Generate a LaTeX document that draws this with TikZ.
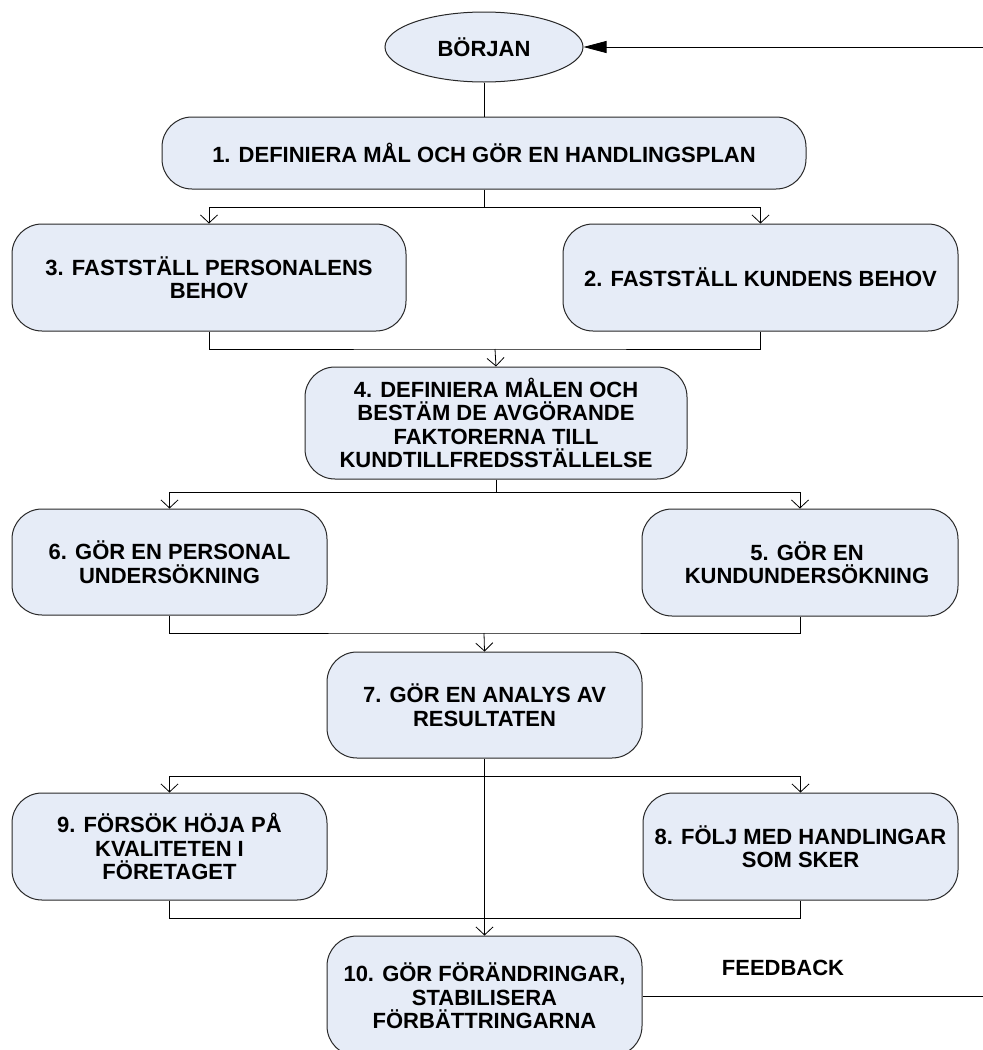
\documentclass[tikz,border=0pt]{standalone}
\usepackage{fontspec}
\setmainfont{Liberation Sans}
\usetikzlibrary{shapes.geometric,arrows.meta}
\definecolor{boxfill}{RGB}{230,236,247}
\definecolor{boxline}{RGB}{40,40,40}
\begin{document}
\begin{tikzpicture}[x=1pt,y=-1pt,
  lbl/.style={font=\bfseries\fontsize{22}{23.5}\selectfont,align=center},
  box/.style={lbl,draw=boxline,fill=boxfill,line width=1pt,rounded corners=30pt,inner sep=0pt},
  conn/.style={line width=0.8pt,draw=black},
  arr/.style={conn,-{Straight Barb[length=8pt,width=17pt,line width=0.8pt]}},
  bigarr/.style={conn,-{Triangle[length=23pt,width=12pt]}}]
\fill[white] (0,0) rectangle (983,1050);
\useasboundingbox (0,0) rectangle (983,1050);

% nodes
\node[lbl,ellipse,draw=boxline,fill=boxfill,line width=1pt,minimum width=198pt,minimum height=70pt,inner sep=0pt] (start) at (484,47) {BÖRJAN};
\node[box,minimum width=644pt,minimum height=72pt] (n1) at (484,153) {1. DEFINIERA MÅL OCH GÖR EN HANDLINGSPLAN};
\node[box,minimum width=394pt,minimum height=107pt] (n3) at (209,277.5) {3. FASTSTÄLL PERSONALENS\\BEHOV};
\node[box,minimum width=395pt,minimum height=107pt] (n2) at (760.5,277.5) {2. FASTSTÄLL KUNDENS BEHOV};
\node[box,minimum width=382pt,minimum height=112pt] (n4) at (496,423) {4. DEFINIERA MÅLEN OCH\\BESTÄM DE AVGÖRANDE\\FAKTORERNA TILL\\KUNDTILLFREDSSTÄLLELSE};
\node[box,minimum width=315pt,minimum height=106pt] (n6) at (169.5,562) {6. GÖR EN PERSONAL\\UNDERSÖKNING};
\node[box,minimum width=316pt,minimum height=107pt] (n5) at (800,562.5) {\hspace*{14pt}5. GÖR EN\\\hspace*{14pt}KUNDUNDERSÖKNING};
\node[box,minimum width=315pt,minimum height=106pt] (n7) at (484.5,705) {7. GÖR EN ANALYS AV\\RESULTATEN};
\node[box,minimum width=315pt,minimum height=107pt] (n9) at (169.5,846.5) {9. FÖRSÖK HÖJA PÅ\\KVALITETEN I\\FÖRETAGET};
\node[box,minimum width=315pt,minimum height=107pt] (n8) at (800.5,846.5) {8. FÖLJ MED HANDLINGAR\\SOM SKER};
\node[box,minimum width=315pt,minimum height=120pt] (n10) at (484.5,996) {10. GÖR FÖRÄNDRINGAR,\\STABILISERA\\FÖRBÄTTRINGARNA};
\node[lbl,inner sep=0pt] (fb) at (783,968) {FEEDBACK};

% junction coordinates
\coordinate (j1) at (484,207);
\coordinate (j2) at (495,349);
\coordinate (j3) at (496,492);
\coordinate (j4) at (484,633);
\coordinate (j5) at (484,776);
\coordinate (j6) at (484,918);
\coordinate (topR) at (983,47);
\coordinate (fbR) at (983,996);

% connectors
\draw[conn] (start) -- (n1);
\draw[conn] (n1.south) -- (j1);
\draw[arr] (j1) -| (n3.north);
\draw[arr] (j1) -| (n2.north);
\draw[conn] (n3.south) |- (j2) -| (n2.south);
\draw[arr] (j2) -- (n4.north);
\draw[conn] (n4.south) -- (j3);
\draw[arr] (j3) -| (n6.north);
\draw[arr] (j3) -| (n5.north);
\draw[conn] (n6.south) |- (j4) -| (n5.south);
\draw[arr] (j4) -- (n7.north);
\draw[arr] (n7.south) -- (n10.north);
\draw[arr] (j5) -| (n9.north);
\draw[arr] (j5) -| (n8.north);
\draw[conn] (n9.south) |- (j6) -| (n8.south);
\draw[conn] (n10.east) -- (fbR);
\draw[bigarr] (topR) -- (start.east);
\end{tikzpicture}
\end{document}
